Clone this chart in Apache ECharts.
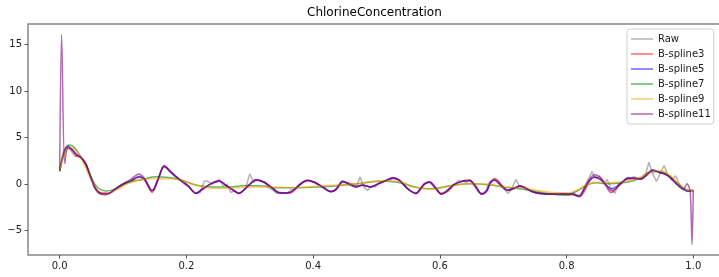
<!DOCTYPE html>
<html>
<head>
<meta charset="utf-8">
<script src="https://cdn.jsdelivr.net/npm/echarts@6/dist/echarts.min.js"></script>
<style>
	html, body { margin: 0; padding: 0; background: #fff; }
	#chart01 { width: 719px; height: 277px; }
</style>
</head>
<body>
<div id="chart01"></div>
<script>
// 공통 x 좌표 (B-spline3 / 5 / 11)
const waveX = [0,0.003,0.008,0.013,0.02,0.027,0.033,0.041,0.049,0.057,
	0.067,0.077,0.088,0.099,0.112,0.125,0.133,0.146,0.155,0.165,
	0.175,0.188,0.202,0.215,0.226,0.241,0.252,0.262,0.273,0.283,
	0.296,0.31,0.323,0.334,0.347,0.363,0.38,0.391,0.402,0.415,
	0.428,0.436,0.447,0.457,0.468,0.478,0.491,0.502,0.515,0.526,
	0.536,0.549,0.562,0.575,0.584,0.594,0.602,0.612,0.623,0.636,
	0.647,0.657,0.666,0.674,0.68,0.687,0.697,0.707,0.715,0.726,
	0.734,0.747,0.76,0.778,0.794,0.81,0.82,0.828,0.836,0.844,
	0.855,0.863,0.87,0.878,0.889,0.897,0.907,0.918,0.926,0.936,
	0.947,0.955,0.963,0.973,0.984,0.99,0.995,0.998,1];

const b3Y = [1.4,2.6,3.8,4.0,3.6,3.0,2.9,2.3,0.8,-0.6,
	-1.1,-1.05,-0.5,0.0,0.3,0.75,0.5,-0.9,0.4,2.0,
	1.4,0.6,-0.1,-0.95,-0.55,0.15,0.35,-0.1,-0.65,-1.0,
	-0.25,0.5,0.2,-0.3,-0.9,-0.95,-0.05,0.45,0.2,-0.35,
	-0.85,-0.6,0.2,0.1,-0.2,-0.15,-0.3,0.05,0.35,0.65,
	0.45,-0.45,-1.0,-0.1,0.25,-0.4,-1.0,-0.8,-0.1,0.35,
	0.45,-0.25,-1.05,-0.8,0.1,0.6,-0.05,-0.7,-0.55,-0.2,
	-0.35,-0.8,-1.05,-1.05,-1.1,-1.15,-1.35,-0.8,0.3,0.8,
	0.5,-0.1,-0.7,-0.45,0.2,0.6,0.65,0.55,0.9,1.45,
	1.3,1.05,0.8,0.1,-0.5,-0.7,-0.75,-0.7,-0.7];

const b5Y = [1.4,2.4,3.6,4.1,3.7,3.2,2.9,2.2,0.75,-0.5,
	-1.0,-1.0,-0.55,-0.05,0.35,0.8,0.6,-0.7,0.5,1.95,
	1.3,0.55,-0.15,-1.0,-0.5,0.1,0.3,-0.1,-0.6,-1.0,
	-0.3,0.45,0.2,-0.35,-0.95,-0.9,0.0,0.4,0.2,-0.3,
	-0.8,-0.6,0.3,0.0,-0.3,-0.1,-0.3,0.0,0.4,0.6,
	0.4,-0.5,-1.0,0.0,0.2,-0.5,-1.1,-0.7,0.0,0.3,
	0.4,-0.3,-1.1,-0.7,0.2,0.45,-0.15,-0.65,-0.5,-0.2,
	-0.4,-0.85,-1.0,-1.1,-1.05,-1.1,-1.3,-0.5,0.4,0.75,
	0.4,-0.15,-0.5,-0.3,0.3,0.7,0.6,0.6,1.0,1.55,
	1.25,1.1,0.75,0.05,-0.5,-0.75,-0.75,-0.7,-0.7];

const b11Y = [1.4,16.1,2.2,3.9,3.7,3.1,2.9,2.2,0.7,-0.5,
	-1.0,-1.0,-0.5,0.0,0.5,1.1,0.7,-0.7,0.5,1.9,
	1.3,0.55,-0.15,-1.0,-0.5,0.1,0.3,-0.1,-0.6,-1.0,
	-0.3,0.45,0.2,-0.35,-0.95,-0.9,0.0,0.4,0.2,-0.3,
	-0.8,-0.6,0.3,0.0,-0.3,-0.1,-0.3,0.0,0.4,0.7,
	0.4,-0.5,-1.0,0.0,0.2,-0.5,-1.1,-0.7,0.0,0.3,
	0.4,-0.3,-1.1,-0.7,0.2,0.45,-0.15,-0.65,-0.5,-0.2,
	-0.4,-0.85,-1.0,-1.1,-1.05,-1.1,-1.3,-0.5,0.5,1.0,
	0.6,-0.3,-0.9,-0.5,0.3,0.6,0.6,0.55,1.0,1.5,
	1.2,1.1,0.75,0.05,-0.6,0.05,-0.8,-6.5,-0.7];

// 원본 (Raw)
const rawX = [0,0.006,0.012,0.018,0.024,0.03,0.036,0.042,0.048,0.054,
	0.06,0.066,0.072,0.078,0.084,0.09,0.096,0.102,0.108,0.114,
	0.12,0.126,0.132,0.138,0.144,0.15,0.156,0.162,0.168,0.174,
	0.18,0.186,0.192,0.198,0.204,0.21,0.216,0.222,0.228,0.234,
	0.24,0.246,0.252,0.258,0.264,0.27,0.276,0.282,0.288,0.294,
	0.3,0.306,0.312,0.318,0.324,0.33,0.336,0.342,0.348,0.354,
	0.36,0.366,0.372,0.378,0.384,0.39,0.396,0.402,0.408,0.414,
	0.42,0.426,0.432,0.438,0.444,0.45,0.456,0.462,0.468,0.474,
	0.48,0.486,0.492,0.498,0.504,0.51,0.516,0.522,0.528,0.534,
	0.54,0.546,0.552,0.558,0.564,0.57,0.576,0.582,0.588,0.594,
	0.6,0.606,0.612,0.618,0.624,0.63,0.636,0.642,0.648,0.654,
	0.66,0.666,0.672,0.678,0.684,0.69,0.696,0.702,0.708,0.714,
	0.72,0.726,0.732,0.738,0.744,0.75,0.756,0.762,0.768,0.774,
	0.78,0.786,0.792,0.798,0.804,0.81,0.816,0.822,0.828,0.834,
	0.84,0.846,0.852,0.858,0.864,0.87,0.876,0.882,0.888,0.894,
	0.9,0.906,0.912,0.918,0.924,0.93,0.936,0.942,0.948,0.954,
	0.96,0.966,0.972,0.978,0.984,0.99,0.996,1];

const rawY = [1.4,3.0,4.0,3.6,3.0,3.1,2.6,2.0,0.9,-0.3,
	-0.9,-1.1,-1.2,-1.0,-0.8,-0.5,-0.2,0.0,0.2,0.4,
	0.7,0.9,0.6,0.2,-0.8,-0.6,0.6,1.8,1.8,1.3,
	0.9,0.6,0.3,-0.1,-0.3,-0.8,-1.0,-0.9,0.3,0.3,
	0.0,0.3,0.5,-0.2,0.0,-0.9,-0.7,-1.0,-0.8,-0.3,
	1.1,0.2,0.4,0.3,0.1,-0.4,-0.6,-1.0,-0.9,-1.0,
	-0.9,-0.6,-0.5,0.0,0.3,0.4,0.3,0.2,0.0,-0.3,
	-0.6,-0.8,-0.8,-0.3,0.3,0.2,-0.1,-0.2,-0.3,0.75,
	-0.3,-0.7,-0.2,-0.3,0.1,0.2,0.4,0.6,0.7,0.5,
	0.2,-0.3,-0.7,-0.9,-0.9,-0.5,0.1,0.3,-0.1,-0.6,
	-1.0,-0.9,-0.6,-0.2,0.0,0.4,0.3,0.2,0.4,-0.2,
	-0.8,-1.0,-0.8,0.2,0.5,0.2,-0.2,-0.6,-1.0,-0.4,
	0.5,-0.3,-0.3,-0.5,-0.8,-0.9,-1.0,-1.0,-1.0,-1.1,
	-1.0,-1.1,-1.0,-1.0,-1.1,-0.9,-1.2,-1.2,-0.3,0.5,
	1.35,0.6,0.9,0.0,0.5,-0.5,-1.0,0.0,0.2,0.6,
	0.5,0.8,0.6,0.5,0.9,2.35,1.1,0.3,1.2,2.0,
	0.9,0.4,0.9,0.0,-0.5,-0.8,-0.7,-0.7];

// B-spline7
const b7X = [0,0.008,0.015,0.022,0.03,0.038,0.046,0.057,0.065,0.073,
	0.088,0.109,0.131,0.152,0.173,0.194,0.215,0.241,0.267,0.294,
	0.32,0.343,0.365,0.412,0.465,0.512,0.533,0.56,0.586,0.618,
	0.649,0.681,0.699,0.726,0.752,0.778,0.799,0.815,0.831,0.847,
	0.868,0.894,0.915,0.931,0.944,0.96,0.976,0.989,1];
const b7Y = [1.4,3.5,4.2,4.0,3.3,2.4,1.3,-0.15,-0.6,-0.75,
	-0.5,0.2,0.5,0.8,0.7,0.4,-0.1,-0.3,-0.3,-0.15,
	-0.2,-0.4,-0.4,-0.3,0.0,0.3,0.2,-0.3,-0.5,-0.15,
	0.05,-0.1,-0.3,-0.5,-0.8,-1.1,-1.2,-0.8,-0.15,0.15,
	0.05,0.2,0.6,1.3,1.35,1.0,0.05,-0.6,-0.7];

// B-spline9
const b9X = [0,0.008,0.015,0.022,0.03,0.038,0.046,0.057,0.065,0.075,
	0.09,0.11,0.13,0.155,0.18,0.2,0.22,0.245,0.27,0.3,
	0.33,0.365,0.412,0.465,0.512,0.535,0.56,0.586,0.618,0.649,
	0.681,0.699,0.726,0.752,0.778,0.799,0.815,0.831,0.847,0.868,
	0.894,0.915,0.931,0.944,0.96,0.976,0.989,1];
const b9Y = [1.4,3.3,3.9,3.8,3.2,2.2,1.0,-0.4,-0.9,-0.95,
	-0.6,0.1,0.5,0.6,0.55,0.2,-0.2,-0.45,-0.45,-0.3,
	-0.3,-0.4,-0.2,0.0,0.4,0.3,-0.3,-0.55,-0.2,0.05,
	-0.05,-0.3,-0.4,-0.65,-0.9,-0.95,-0.7,-0.1,0.2,0.15,
	0.3,0.7,1.3,1.45,1.1,0.1,-0.55,-0.7];

// 눈금
const xTicks = [0, 0.2, 0.4, 0.6, 0.8, 1.0];
const yTicks = [-5, 0, 5, 10, 15];

const seriesNames = ['Raw', 'B-spline3', 'B-spline5', 'B-spline7', 'B-spline9', 'B-spline11'];

const CHART01 = {
	fontFamily: 'DejaVu Sans',
	init: function() {
		this.setChart01();
	},
	// x, y 배열을 묶어서 [x, y] 쌍으로
	zip: function(xs, ys) {
		return xs.map((x, i) => [x, ys[i]]);
	},
	makeSeries: function(name, data, color, smooth) {
		return {
			name: name,
			type: 'line',
			data: data,
			symbol: 'none',
			smooth: smooth,
			lineStyle: { color: color, width: 1.5 },
			itemStyle: { color: color },
			animation: false,
		};
	},
	setChart01: function() {
		const font = this.fontFamily;
		const option = {
			animation: false,
			title: {
				text: 'ChlorineConcentration',
				left: 307,
				top: 7,
				padding: 0,
				textStyle: { fontFamily: font, fontSize: 12, fontWeight: 'normal', color: '#000' },
			},
			legend: {
				data: seriesNames,
				orient: 'vertical',
				left: 627,
				top: 29,
				padding: [5, 3, 5, 4],
				icon: 'rect',
				itemWidth: 22,
				itemHeight: 1.5,
				itemGap: 5,
				itemTextGap: 8,
				backgroundColor: 'rgba(255,255,255,0.8)',
				borderColor: '#d0d0d0',
				borderWidth: 1,
				borderRadius: 3,
				textStyle: { fontFamily: font, fontSize: 10, color: '#222', lineHeight: 10 },
			},
			grid: {
				left: 28,
				width: 697,
				top: 24,
				bottom: 22,
				outerBoundsMode: 'none',
				containLabel: false,
				show: true,
				borderColor: '#888',
				borderWidth: 1.5,
				backgroundColor: 'transparent',
			},
			xAxis: {
				type: 'value',
				min: -0.05,
				max: 1.05,
				axisLine: { show: false, onZero: false },
				splitLine: { show: false },
				axisTick: { show: true, customValues: xTicks, length: 3.5, lineStyle: { color: '#555' } },
				axisLabel: {
					customValues: xTicks,
					margin: 6,
					formatter: (v) => v.toFixed(1),
					fontFamily: font, fontSize: 10, color: '#222',
				},
			},
			yAxis: {
				type: 'value',
				min: -7.63,
				max: 17.23,
				axisLine: { show: false, onZero: false },
				splitLine: { show: false },
				axisTick: { show: true, customValues: yTicks, length: 3.5, lineStyle: { color: '#555' } },
				axisLabel: {
					customValues: yTicks,
					margin: 6,
					formatter: (v) => String(v).replace('-', '\u2212'),
					fontFamily: font, fontSize: 10, color: '#222',
				},
			},
			series: [
				this.makeSeries('Raw', this.zip(rawX, rawY), 'rgba(128,128,128,0.6)', false),
				this.makeSeries('B-spline3', this.zip(waveX, b3Y), 'rgba(255,0,0,0.6)', 0.3),
				this.makeSeries('B-spline5', this.zip(waveX, b5Y), 'rgba(0,0,255,0.6)', 0.3),
				this.makeSeries('B-spline7', this.zip(b7X, b7Y), 'rgba(0,128,0,0.6)', 0.5),
				this.makeSeries('B-spline9', this.zip(b9X, b9Y), 'rgba(255,165,0,0.6)', 0.5),
				this.makeSeries('B-spline11', this.zip(waveX, b11Y), 'rgba(128,0,128,0.6)', 0.3),
			],
		};

		const myChart = echarts.init(
			document.getElementById('chart01'),
			null,
			{ renderer: 'canvas' }
		);
		myChart.setOption(option);

		window.addEventListener('resize', myChart.resize);
	},
};

CHART01.init();
</script>
</body>
</html>
